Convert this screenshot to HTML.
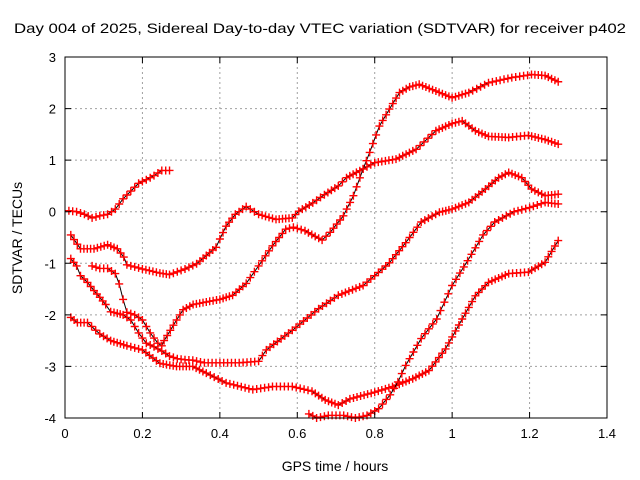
<!DOCTYPE html>
<html><head><meta charset="utf-8"><style>
html,body{margin:0;padding:0;background:#fff}
svg{display:block;font-family:"Liberation Sans",sans-serif}
</style></head><body>
<svg id="chart" width="640" height="480" viewBox="0 0 640 480" xmlns="http://www.w3.org/2000/svg">
<text x="320" y="33" text-anchor="middle" font-size="14" textLength="612" lengthAdjust="spacingAndGlyphs">Day 004 of 2025, Sidereal Day-to-day VTEC variation (SDTVAR) for receiver p402</text>
<text x="22" y="238" text-anchor="middle" font-size="14" transform="rotate(-90 22 238)">SDTVAR / TECUs</text>
<text x="335" y="471" text-anchor="middle" font-size="14">GPS time / hours</text>
<g id="grid"></g>
<g id="series"></g>
<rect x="65" y="57" width="542" height="361" fill="none" stroke="#000" stroke-width="1"/>
<g id="ticks"></g>
</svg>
<script>
const xTicks = [0, 0.2, 0.4, 0.6, 0.8, 1, 1.2, 1.4];
const xTickLabels = ["0", "0.2", "0.4", "0.6", "0.8", "1", "1.2", "1.4"];
const yTicks = [-4, -3, -2, -1, 0, 1, 2, 3];
const yTickLabels = ["-4", "-3", "-2", "-1", "0", "1", "2", "3"];

const s1x = [0.01,0.03,0.05,0.07,0.09,0.11,0.13,0.15,0.17,0.19,0.21,0.23,0.25,0.27];
const s1y = [0.02,0.0,-0.05,-0.12,-0.08,-0.05,0.05,0.25,0.4,0.55,0.62,0.7,0.8,0.8];

const s2x = [0.015,0.04,0.075,0.11,0.135,0.152,0.16,0.2,0.245,0.27,0.31,0.34,0.365,0.39,0.4,0.416,0.44,0.468,0.5,0.545,0.587,0.604,0.64,0.67,0.706,0.727,0.77,0.8,0.855,0.907,0.958,1.0,1.026,1.06,1.094,1.146,1.197,1.24,1.274];
const s2y = [-0.45,-0.72,-0.72,-0.64,-0.72,-0.88,-1.03,-1.11,-1.19,-1.22,-1.11,-1.01,-0.85,-0.69,-0.53,-0.28,-0.05,0.1,-0.05,-0.15,-0.12,0.01,0.17,0.33,0.5,0.66,0.83,0.95,1.02,1.21,1.57,1.71,1.76,1.57,1.46,1.44,1.48,1.4,1.31];

const s3x = [0.015,0.03,0.04,0.058,0.075,0.09,0.105,0.118,0.135,0.15,0.17,0.19,0.21,0.23,0.25,0.27,0.29,0.31,0.33,0.36,0.4,0.45,0.5,0.52,0.587,0.655,0.706,0.77,0.8,0.838,0.88,0.92,0.967,1.0,1.043,1.086,1.12,1.146,1.18,1.205,1.24,1.274];
const s3y = [-0.91,-1.05,-1.24,-1.37,-1.53,-1.66,-1.8,-1.94,-1.97,-2.0,-2.1,-2.35,-2.55,-2.62,-2.7,-2.8,-2.85,-2.87,-2.88,-2.93,-2.93,-2.93,-2.9,-2.68,-2.3,-1.88,-1.62,-1.43,-1.24,-0.99,-0.6,-0.2,-0.01,0.05,0.18,0.44,0.66,0.76,0.66,0.44,0.31,0.34];

const s4x = [0.07,0.09,0.11,0.13,0.14,0.15,0.16,0.18,0.2,0.22,0.24,0.25,0.256,0.28,0.305,0.331,0.365,0.4,0.433,0.468,0.5,0.536,0.57,0.59,0.62,0.664,0.685,0.719,0.745,0.77,0.787,0.812,0.838,0.864,0.89,0.915,0.958,1.0,1.043,1.094,1.154,1.205,1.24,1.274];
const s4y = [-1.05,-1.1,-1.1,-1.2,-1.4,-1.7,-1.95,-2.0,-2.1,-2.35,-2.55,-2.6,-2.5,-2.2,-1.9,-1.8,-1.75,-1.7,-1.62,-1.39,-1.05,-0.66,-0.34,-0.3,-0.37,-0.55,-0.4,-0.08,0.31,0.83,1.15,1.66,1.99,2.31,2.42,2.47,2.34,2.21,2.31,2.5,2.6,2.66,2.64,2.52];

const s5x = [0.015,0.032,0.058,0.09,0.118,0.16,0.2,0.245,0.288,0.33,0.365,0.416,0.485,0.536,0.587,0.638,0.672,0.706,0.736,0.8,0.855,0.898,0.94,0.983,1.026,1.06,1.094,1.146,1.197,1.24,1.274];
const s5y = [-2.05,-2.15,-2.15,-2.37,-2.5,-2.6,-2.68,-2.94,-3.0,-3.0,-3.13,-3.32,-3.45,-3.39,-3.39,-3.48,-3.65,-3.75,-3.63,-3.5,-3.37,-3.24,-3.08,-2.66,-2.08,-1.63,-1.37,-1.2,-1.17,-0.98,-0.56];

const s6x = [0.63,0.65,0.68,0.72,0.75,0.78,0.81,0.84,0.86,0.88,0.92,0.96,1.0,1.04,1.08,1.11,1.16,1.2,1.24,1.274];
const s6y = [-3.92,-4.0,-3.95,-3.95,-4.0,-3.95,-3.82,-3.55,-3.3,-2.98,-2.46,-2.08,-1.43,-0.95,-0.45,-0.2,0.0,0.08,0.18,0.15];

const seriesX = [s1x, s2x, s3x, s4x, s5x, s6x];
const seriesY = [s1y, s2y, s3y, s4y, s5y, s6y];

const L = 65, R = 607, T = 57, B = 418;
const xMin = 0, xMax = 1.4, yMin = -4, yMax = 3;
function xs(v){ return L + (v - xMin) / (xMax - xMin) * (R - L); }
function ys(v){ return B - (v - yMin) / (yMax - yMin) * (B - T); }
const NS = "http://www.w3.org/2000/svg";
function mk(tag, attrs){ const e = document.createElementNS(NS, tag); for (const k in attrs) e.setAttribute(k, attrs[k]); return e; }

const grid = document.getElementById('grid');
const ticks = document.getElementById('ticks');
xTicks.forEach((t, i) => {
  const x = xs(t);
  if (i > 0 && i < xTicks.length - 1) {
    const g = mk('line', {x1:x, y1:T, x2:x, y2:B, stroke:'#a0a0a0', 'stroke-width':1, 'stroke-dasharray':'2,3'});
    
    
    grid.appendChild(g);
  }
  const tk = mk('path', {d:`M${x},${B}v-6M${x},${T}v6`, stroke:'#000', 'stroke-width':1});
  
  
  ticks.appendChild(tk);
  const lb = mk('text', {x:x, y:B + 20, 'text-anchor':'middle', 'font-size':13});
  lb.textContent = xTickLabels[i];
  
  
  ticks.appendChild(lb);
});
yTicks.forEach((t, i) => {
  const y = ys(t);
  if (i > 0 && i < yTicks.length - 1) {
    const g = mk('line', {x1:L, y1:y, x2:R, y2:y, stroke:'#a0a0a0', 'stroke-width':1, 'stroke-dasharray':'2,3'});
    
    
    grid.appendChild(g);
  }
  const tk = mk('path', {d:`M${L},${y}h6M${R},${y}h-6`, stroke:'#000', 'stroke-width':1});
  
  
  ticks.appendChild(tk);
  const lb = mk('text', {x:L - 9, y:y + 5, 'text-anchor':'end', 'font-size':13});
  lb.textContent = yTickLabels[i];
  
  
  ticks.appendChild(lb);
});

const sg = document.getElementById('series');
seriesX.forEach((X, si) => {
  const Y = seriesY[si];
  const pts = X.map((v, j) => [xs(v), ys(Y[j])]);
  const line = mk('polyline', {points: pts.map(p => p.join(',')).join(' '), fill:'none', stroke:'#000', 'stroke-width':1});
  
  
  sg.appendChild(line);
  let d = '';
  const step = 3.6;
  for (let j = 0; j < pts.length - 1; j++) {
    const [x0, y0] = pts[j], [x1, y1] = pts[j + 1];
    const n = Math.max(1, Math.round((x1 - x0) / step));
    for (let k = 0; k < n; k++) {
      const f = k / n;
      const px = x0 + (x1 - x0) * f, py = y0 + (y1 - y0) * f;
      d += `M${(px - 4).toFixed(1)},${py.toFixed(1)}h8M${px.toFixed(1)},${(py - 4).toFixed(1)}v8`;
    }
  }
  const last = pts[pts.length - 1];
  d += `M${last[0] - 4},${last[1]}h8M${last[0]},${last[1] - 4}v8`;
  const marks = mk('path', {d: d, stroke:'#ff0000', 'stroke-width':1.4, fill:'none'});
  
  
  sg.appendChild(marks);
});
</script>
</body></html>
